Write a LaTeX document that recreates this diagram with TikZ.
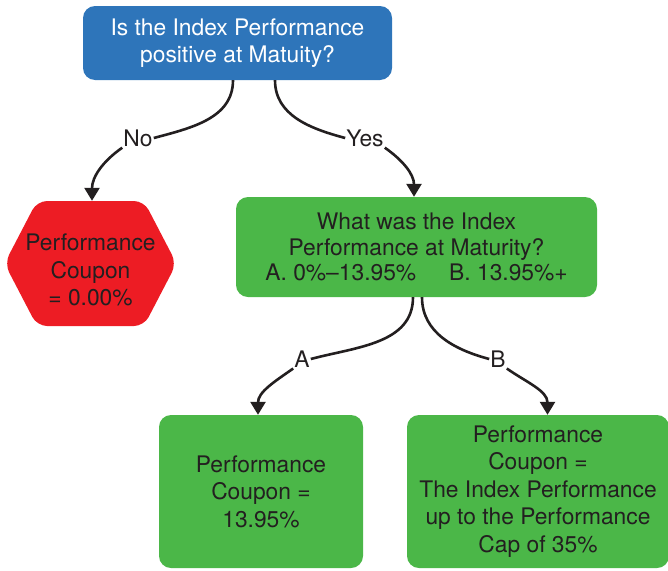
\documentclass[tikz,border=0pt]{standalone}
\usepackage{fontspec}
\setmainfont{TeX Gyre Heros}
\usetikzlibrary{arrows.meta, positioning, shapes.symbols}
\definecolor{qblue}{HTML}{2E75BA}
\definecolor{nored}{HTML}{ED1C24}
\definecolor{okgreen}{HTML}{4BB748}
\definecolor{inkgray}{HTML}{231F20}

\begin{document}
\begin{tikzpicture}[x=1pt, y=-1pt,
  txt/.style={font=\fontsize{22.8}{27.5}\selectfont, align=center, text=inkgray},
  box/.style={txt, rounded corners=12pt, inner sep=0pt},
  hexbox/.style={signal, signal to=west and east, signal pointer angle=125,
    rounded corners=10pt, fill=nored, minimum width=172pt, minimum height=125pt, inner sep=0pt},
  lbl/.style={txt, inner sep=1pt},
  conn/.style={inkgray, line width=2.6pt},
  arr/.style={conn, -{Triangle[width=15pt,length=13pt]}}]
\useasboundingbox (0,0) rectangle (668,570);

% Question nodes
\node[box, fill=qblue, text=white, minimum width=309pt, minimum height=74pt] (q1) at (237.5,43)
  {Is the Index Performance\\positive at Matuity?};
\node[box, fill=okgreen, minimum width=361pt, minimum height=100pt,
  font=\fontsize{22.8}{25.5}\selectfont] (q2) at (416.5,247)
  {What was the Index\\Performance at Maturity?\\A. 0\%--13.95\%\hspace{33pt}B. 13.95\%+};

% Outcomes
\node[hexbox, label={[txt, yshift=-6.5pt]center:{Performance\\Coupon\\= 0.00\%}}] (no) at (90.5,263.5) {};
\node[box, fill=okgreen, minimum width=204pt, minimum height=153pt] (ca) at (261,491.5)
  {Performance\\Coupon =\\13.95\%};
\node[box, fill=okgreen, minimum width=262pt, minimum height=153pt] (cb) at (538,491.5)
  {Performance\\Coupon =\\The Index Performance\\up to the Performance\\Cap of 35\%};

% Branch labels
\node[lbl] (lno) at (138,138) {No};
\node[lbl] (lyes) at (365,138) {Yes};
\node[lbl] (la) at (302,359) {A};
\node[lbl] (lb) at (498,359) {B};

% Connectors
\draw[conn] ([xshift=-4.5pt]q1.south) to[out=-90, in=15] (lno.east);
\draw[arr] (lno.south west) to[out=215, in=90] ([xshift=1.5pt]no.north);
\draw[conn] ([xshift=37.5pt]q1.south) to[out=-90, in=165] (lyes.west);
\draw[arr] (lyes.south east) to[out=-35, in=90] ([xshift=-2.5pt]q2.north);

\draw[conn] ([xshift=-3.5pt]q2.south) to[out=-90, in=15] (la.east);
\draw[arr] (la.south west) to[out=215, in=90] ([xshift=-3pt]ca.north);
\draw[conn] ([xshift=5.5pt]q2.south) to[out=-90, in=165] (lb.west);
\draw[arr] (lb.south east) to[out=-35, in=90] ([xshift=9.5pt]cb.north);

\end{tikzpicture}
\end{document}
